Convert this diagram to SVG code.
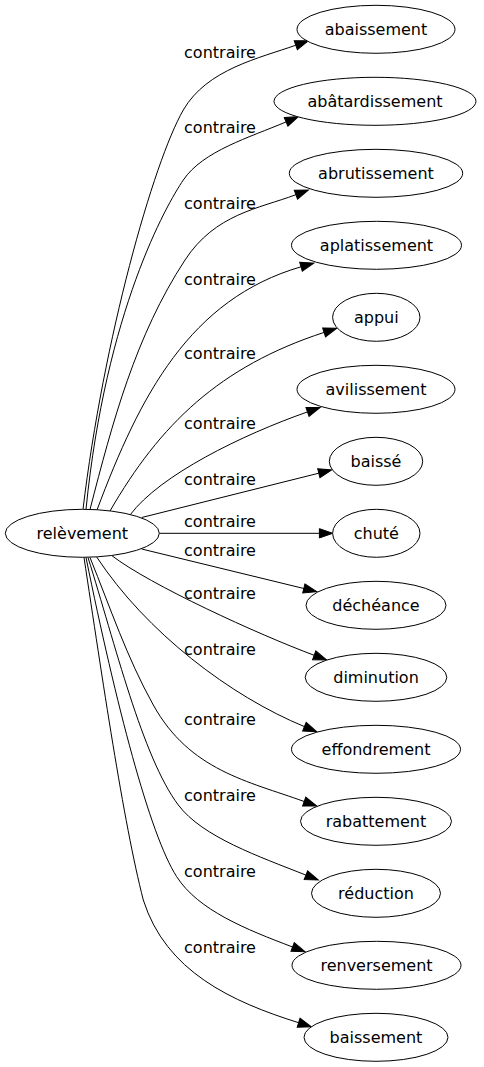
<svg xmlns="http://www.w3.org/2000/svg" width="484" height="1067" viewBox="0 0 484 1067">
<style>
.bg{fill:#fff}
.node ellipse{fill:#fff;stroke:#000;stroke-width:1}
.node text{font-family:"DejaVu Sans",sans-serif;font-size:16px;fill:#000;text-anchor:middle}
.edge path{fill:none;stroke:#000;stroke-width:1;marker-end:url(#ah)}
.lbl{font-family:"DejaVu Sans",sans-serif;font-size:16px;fill:#000;text-anchor:middle}
</style>
<defs>
<marker id="ah" markerUnits="userSpaceOnUse" viewBox="0 -5 14 10" refX="0" refY="0" markerWidth="14" markerHeight="10" orient="auto" overflow="visible">
<path d="M0,-4.67 L13.33,0 L0,4.67 z" fill="#000" stroke="#000" stroke-width="1"/>
</marker>
</defs>
<rect class="bg" x="0" y="0" width="484" height="1067"/>
<g id="edges" class="edge">
<path d="M83,509.3 C103.4,339.3 153.3,162.2 183.3,110 C207,69 260,58 295.8,45.2"/>
<path d="M86,509.3 C106,310.3 166.5,204.9 183.3,180 C202.9,151 249.3,137.5 286.1,121.9"/>
<path d="M90,509.5 C112.5,422.2 135.5,335.6 185,260 C215.3,213.8 258.5,208.7 295.9,194.7"/>
<path d="M97,510 C140,395 190,299 301,266.8"/>
<path d="M110,511 C160,424.4 219.6,366.5 324.1,332.4"/>
<path d="M130,515 C160,475 241.7,435 307.5,411.9"/>
<path d="M141.7,517.5 L318.8,473.2"/>
<path d="M159.3,533.3 L319.4,533.3"/>
<path d="M141.7,549 L303.8,588.5"/>
<path d="M111.7,555.5 C150,585 258,634.3 314.2,655.3"/>
<path d="M96.7,557 C146.2,632.2 230.5,696.2 304.4,726.6"/>
<path d="M90,557.5 C110.6,608.4 126.6,656.9 153.3,705 C189.8,770.6 247.8,781.1 304.2,801.5"/>
<path d="M88,557.5 C115,643.4 142.3,757 178.3,805 C202.3,837 259.4,856.6 305.9,875.1"/>
<path d="M86,557.5 C116,704.5 149.7,834.7 176.7,876.7 C198.3,910.3 245.9,929.3 292.6,947"/>
<path d="M84,557.5 C102,676.3 123.3,822.4 143.3,900 C165.8,971.6 231.7,1001.7 298.6,1022.7"/>
</g>
<g id="edge-labels">
<text class="lbl" x="220" y="58.3">contraire</text>
<text class="lbl" x="220" y="133">contraire</text>
<text class="lbl" x="220" y="209">contraire</text>
<text class="lbl" x="220" y="285">contraire</text>
<text class="lbl" x="220" y="359.3">contraire</text>
<text class="lbl" x="220" y="429.3">contraire</text>
<text class="lbl" x="220" y="485">contraire</text>
<text class="lbl" x="220" y="527.3">contraire</text>
<text class="lbl" x="220" y="555.5">contraire</text>
<text class="lbl" x="220" y="599.3">contraire</text>
<text class="lbl" x="220" y="655">contraire</text>
<text class="lbl" x="220" y="725">contraire</text>
<text class="lbl" x="220" y="801">contraire</text>
<text class="lbl" x="220" y="877.3">contraire</text>
<text class="lbl" x="220" y="953.3">contraire</text>
</g>
<g id="n-relevement" class="node"><ellipse cx="82.3" cy="533.3" rx="77" ry="24"/><text x="82.3" y="539.3">relèvement</text></g>
<g id="n-abaissement" class="node"><ellipse cx="376" cy="29.3" rx="79" ry="24"/><text x="376" y="35.3">abaissement</text></g>
<g id="n-abatardissement" class="node"><ellipse cx="375" cy="101.3" rx="101" ry="24"/><text x="375" y="107.3">abâtardissement</text></g>
<g id="n-abrutissement" class="node"><ellipse cx="376" cy="173.3" rx="86.7" ry="24"/><text x="376" y="179.3">abrutissement</text></g>
<g id="n-aplatissement" class="node"><ellipse cx="376.5" cy="245.3" rx="85" ry="24"/><text x="376.5" y="251.3">aplatissement</text></g>
<g id="n-appui" class="node"><ellipse cx="376.3" cy="317.3" rx="43.7" ry="24"/><text x="376.3" y="323.3">appui</text></g>
<g id="n-avilissement" class="node"><ellipse cx="376" cy="389.3" rx="79" ry="24"/><text x="376" y="395.3">avilissement</text></g>
<g id="n-baisse" class="node"><ellipse cx="376" cy="461.3" rx="46.7" ry="24"/><text x="376" y="467.3">baissé</text></g>
<g id="n-chute" class="node"><ellipse cx="376.3" cy="533.3" rx="43.7" ry="24"/><text x="376.3" y="539.3">chuté</text></g>
<g id="n-decheance" class="node"><ellipse cx="376" cy="605.3" rx="70" ry="24"/><text x="376" y="611.3">déchéance</text></g>
<g id="n-diminution" class="node"><ellipse cx="376" cy="677.3" rx="70.8" ry="24"/><text x="376" y="683.3">diminution</text></g>
<g id="n-effondrement" class="node"><ellipse cx="376" cy="749.3" rx="84.5" ry="24"/><text x="376" y="755.3">effondrement</text></g>
<g id="n-rabattement" class="node"><ellipse cx="376" cy="821.3" rx="75.5" ry="24"/><text x="376" y="827.3">rabattement</text></g>
<g id="n-reduction" class="node"><ellipse cx="376" cy="893.3" rx="64.5" ry="24"/><text x="376" y="899.3">réduction</text></g>
<g id="n-renversement" class="node"><ellipse cx="376.5" cy="965.3" rx="84.5" ry="24"/><text x="376.5" y="971.3">renversement</text></g>
<g id="n-baissement" class="node"><ellipse cx="376" cy="1037.3" rx="72" ry="24"/><text x="376" y="1043.3">baissement</text></g>
</svg>
